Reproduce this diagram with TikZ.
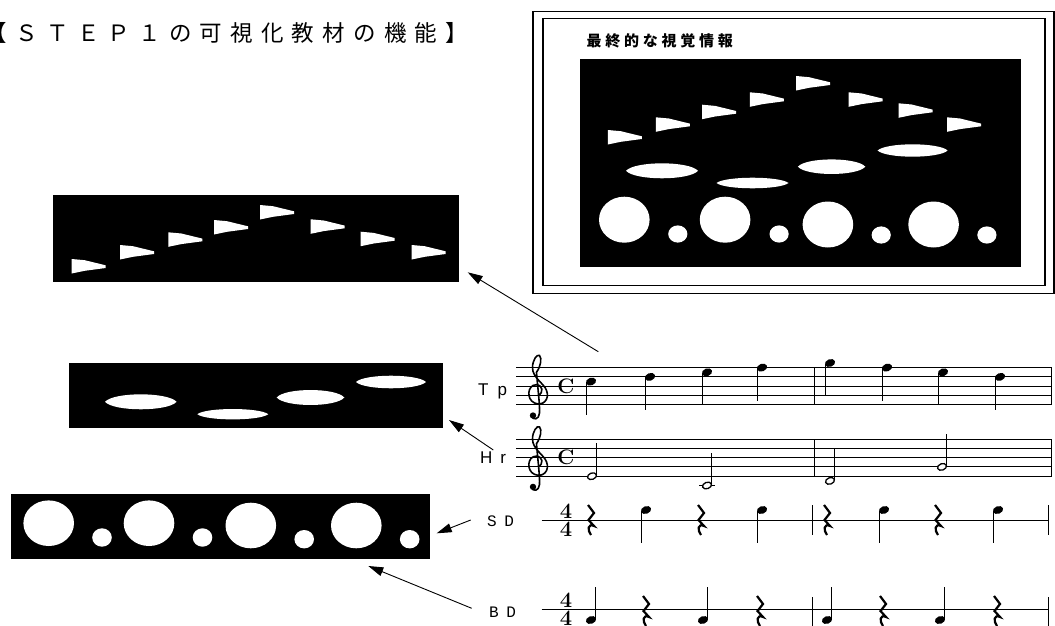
\documentclass[tikz,border=0pt]{standalone}
\usepackage{fontspec}
\newfontfamily\jpfont{Noto Sans CJK JP}
\newfontfamily\lsans{Liberation Sans}
\newfontfamily\lmono{Liberation Mono}
\usetikzlibrary{arrows.meta}
\newcommand\tcell[1]{\makebox[30.7pt]{#1}}
\newcommand\lcell[1]{\makebox[18.75pt]{#1}}
\newcommand\lensw[4]{\fill[white] (#1-#3,#2) .. controls (#1-0.75*#3,#2-1.33*#4) and (#1+0.75*#3,#2-1.33*#4) .. (#1+#3,#2) .. controls (#1+0.75*#3,#2+1.33*#4) and (#1-0.75*#3,#2+1.33*#4) .. (#1-#3,#2) -- cycle;}
\newcommand\dnote[2]{\fill[rotate around={20:(#1,#2)}] (#1,#2) ellipse [x radius=5.3, y radius=3.8]; \draw[stemln] (#1-4.6,#2+0.5) -- (#1-4.6,#2+33);}
\newcommand\unote[2]{\fill[rotate around={20:(#1,#2)}] (#1,#2) ellipse [x radius=5.3, y radius=3.8]; \draw[stemln] (#1+4.6,#2-0.5) -- (#1+4.6,#2-33);}
\newcommand\hnote[2]{\draw[line width=1.3pt, fill=white, rotate around={20:(#1,#2)}] (#1,#2) ellipse [x radius=4.6, y radius=3.2]; \draw[stemln] (#1+4.8,#2-0.5) -- (#1+4.8,#2-33);}
\newcommand\gclefat[2]{\begin{scope}[shift={(#1,#2)},x=10pt,y=9.3pt]
\draw[line width=1.6pt] (0.2,0.0) .. controls (0.8,0.3) and (0.7,1.15) .. (0.0,1.15)
 .. controls (-0.85,1.15) and (-1.0,-0.4) .. (-0.15,-0.8)
 .. controls (0.7,-1.2) and (1.4,-0.4) .. (1.05,0.55)
 .. controls (0.8,1.3) and (-0.35,1.9) .. (-0.35,3.0)
 .. controls (-0.35,3.8) and (0.1,4.5) .. (0.35,4.3)
 .. controls (0.6,4.0) and (0.5,3.2) .. (0.05,2.5)
 .. controls (0.15,1.0) and (0.4,-1.0) .. (0.35,-1.9)
 .. controls (0.3,-2.6) and (-0.3,-2.7) .. (-0.45,-2.2);
\fill (-0.3,-2.15) circle [radius=3.2pt];
\end{scope}}
\tikzset{
  blackbox/.style={fill=black, inner sep=0pt, outer sep=0pt, draw=none},
  arr/.style={line width=0.9pt, -{Triangle[length=15pt,width=9pt]}},
  stemln/.style={line width=1.1pt},
  staffln/.style={line width=1pt},
  framebox/.style={draw, line width=1.3pt},
  flagpen/.pic={\fill[white] (0,0) -- (13,1.2) -- (34,6.3) -- (34,9) -- (13,11.8) -- (0,14.5) -- cycle;},
  qrest/.pic={\draw[line width=2.2pt, line join=miter] (-3,-15) -- (3,-7) -- (-2.5,0) -- (3,6) .. controls (-3,3) and (-4,10) .. (0,15);},
  lbl/.style={inner sep=0pt, anchor=west}
}
\begin{document}
\begin{tikzpicture}[x=1pt,y=-1pt]
\useasboundingbox (0,0) rectangle (1055,626);
\fill[white] (0,0) rectangle (1055,626);

% title
\node[lbl, font=\jpfont\fontsize{22.5}{22.5}\selectfont] (title) at (-19.35,33.3)
 {\tcell{【}\tcell{Ｓ}\tcell{Ｔ}\tcell{Ｅ}\tcell{Ｐ}\tcell{１}\tcell{の}\tcell{可}\tcell{視}\tcell{化}\tcell{教}\tcell{材}\tcell{の}\tcell{機}\tcell{能}\tcell{】}};

% final visual box
\draw[framebox] (533,11.7) rectangle (1054,293.3);
\draw[framebox] (542.9,18.3) rectangle (1045,285.7);
\node[lbl, font=\jpfont\bfseries\fontsize{15}{15}\selectfont] (final) at (584.5,40.7)
 {\lcell{最}\lcell{終}\lcell{的}\lcell{な}\lcell{視}\lcell{覚}\lcell{情}\lcell{報}};
\node[blackbox, minimum width=440.1pt, minimum height=207.4pt] (big) at (800.45,163) {};
\foreach \x/\y in {607.8/130, 655.8/117.3, 702.1/104.7, 749.8/92.3, 796.1/76, 848.7/92.3, 898.5/103.3, 947/117.3}
  \pic at (\x,\y) {flagpen};
\lensw{662}{170.8}{36}{7.5}
\lensw{752.5}{183}{36}{5.3}
\lensw{831.6}{166.7}{33.7}{7.3}
\lensw{912.6}{150.5}{35}{6.2}
\foreach \x/\y in {624.3/219.7, 725.1/219.7, 827.9/224.5, 933.6/224.5}
  \fill[white] (\x,\y) ellipse [x radius=25.3, y radius=23];
\foreach \x/\y in {677.8/234, 779.1/234, 881.2/235, 986.9/235}
  \fill[white] (\x,\y) ellipse [x radius=9.6, y radius=8.6];

% trumpet strip
\node[blackbox, minimum width=406.6pt, minimum height=86.7pt] (flags) at (256,238.35) {};
\foreach \x/\y in {71.7/259, 120/245, 168.3/232.3, 214/220, 260/205, 310.7/219.3, 360.7/231.7, 411.7/245}
  \pic at (\x,\y) {flagpen};

% horn strip
\node[blackbox, minimum width=373.4pt, minimum height=64.4pt] (ovals) at (256,395.5) {};
\lensw{140.8}{401.8}{35.8}{7.5}
\lensw{232.8}{414.2}{35.5}{5.2}
\lensw{310.5}{397.5}{33.8}{7.5}
\lensw{391}{382}{35}{6.3}

% drum strip
\node[blackbox, minimum width=419.3pt, minimum height=64.7pt] (dots) at (220.35,526.65) {};
\foreach \x/\y in {48.7/523.2, 149/523.2, 250.8/525.5, 356.3/525.5}
  \fill[white] (\x,\y) ellipse [x radius=25.3, y radius=22.8];
\foreach \x/\y in {102/537.5, 202.5/537.5, 304.2/539.2, 409.7/539.2}
  \fill[white] (\x,\y) ellipse [x radius=9.8, y radius=9.2];

% staff labels
\node[lbl, font=\lsans\fontsize{17}{17}\selectfont] (tp) at (478,391.5) {T\hspace{9pt}p};
\node[lbl, font=\lsans\fontsize{17}{17}\selectfont] (hr) at (480,458) {H\hspace{8pt}r};
\node[lbl, font=\lmono\fontsize{16}{16}\selectfont] (sd) at (487,521.7) {S\hspace{-2pt} D};
\node[lbl, font=\lmono\fontsize{16}{16}\selectfont] (bd) at (489,612.3) {B\hspace{-2pt} D};

% Tp staff
\foreach \y in {367.6,376.9,386.2,395.5,404.8} \draw[staffln] (516,\y) -- (1051.7,\y);
\draw[staffln] (814.3,367.6) -- (814.3,404.8);
\draw[staffln] (1051.7,367.6) -- (1051.7,404.8);
\gclefat{536}{395.5}
\node[inner sep=0pt, font=\bfseries\fontsize{21}{21}\selectfont] (ctp) at (566,386.2) {C};
\dnote{591}{381.6}
\dnote{650}{376.9}
\dnote{707}{372.3}
\dnote{762}{367.6}
\dnote{830}{363.0}
\dnote{887}{367.6}
\dnote{943}{372.3}
\dnote{1000}{376.9}

% Hr staff
\foreach \y in {439,448.3,457.6,466.9,476.2} \draw[staffln] (516,\y) -- (1051.7,\y);
\draw[staffln] (814.3,439) -- (814.3,476.2);
\draw[staffln] (1051.7,439) -- (1051.7,476.2);
\gclefat{536}{466.9}
\node[inner sep=0pt, font=\bfseries\fontsize{21}{21}\selectfont] (chr) at (566,457.6) {C};
\hnote{592}{476.2}
\draw[staffln] (699,485.5) -- (715,485.5);
\hnote{707}{485.5}
\hnote{830}{480.9}
\hnote{942}{466.9}

% SD line
\draw[staffln] (541.6,520) -- (1048.3,520);
\draw[staffln] (812,505) -- (812,535);
\draw[staffln] (1048.3,505) -- (1048.3,535);
\node[inner sep=0pt, font=\bfseries\fontsize{22}{22}\selectfont] (sdt) at (566,511) {4};
\node[inner sep=0pt, font=\bfseries\fontsize{22}{22}\selectfont] (sdb) at (566,529.5) {4};
\foreach \x in {591,701,827,938} \pic at (\x,520) {qrest};
\dnote{646}{510}
\dnote{762}{510}
\dnote{884}{510}
\dnote{998}{510}

% BD line
\draw[staffln] (541.6,609.5) -- (1048.3,609.5);
\draw[staffln] (812,597) -- (812,626);
\draw[staffln] (1048.3,597) -- (1048.3,626);
\node[inner sep=0pt, font=\bfseries\fontsize{22}{22}\selectfont] (bdt) at (566,600) {4};
\node[inner sep=0pt, font=\bfseries\fontsize{22}{22}\selectfont] (bdb) at (566,618.5) {4};
\foreach \x in {646,760,883,997} \pic at (\x,611) {qrest};
\unote{591}{620}
\unote{703}{620}
\unote{827}{620}
\unote{940}{620}

% arrows
\coordinate (a1t) at (598.3,351.7); \coordinate (a1h) at (467.7,272.3);
\coordinate (a2t) at (493.3,450);   \coordinate (a2h) at (449,420);
\coordinate (a3t) at (470.7,520);   \coordinate (a3h) at (436.7,533.3);
\coordinate (a4t) at (471.7,608.3); \coordinate (a4h) at (368.3,566);
\draw[arr] (a1t) -- (a1h);
\draw[arr] (a2t) -- (a2h);
\draw[arr] (a3t) -- (a3h);
\draw[arr] (a4t) -- (a4h);
\end{tikzpicture}
\end{document}
